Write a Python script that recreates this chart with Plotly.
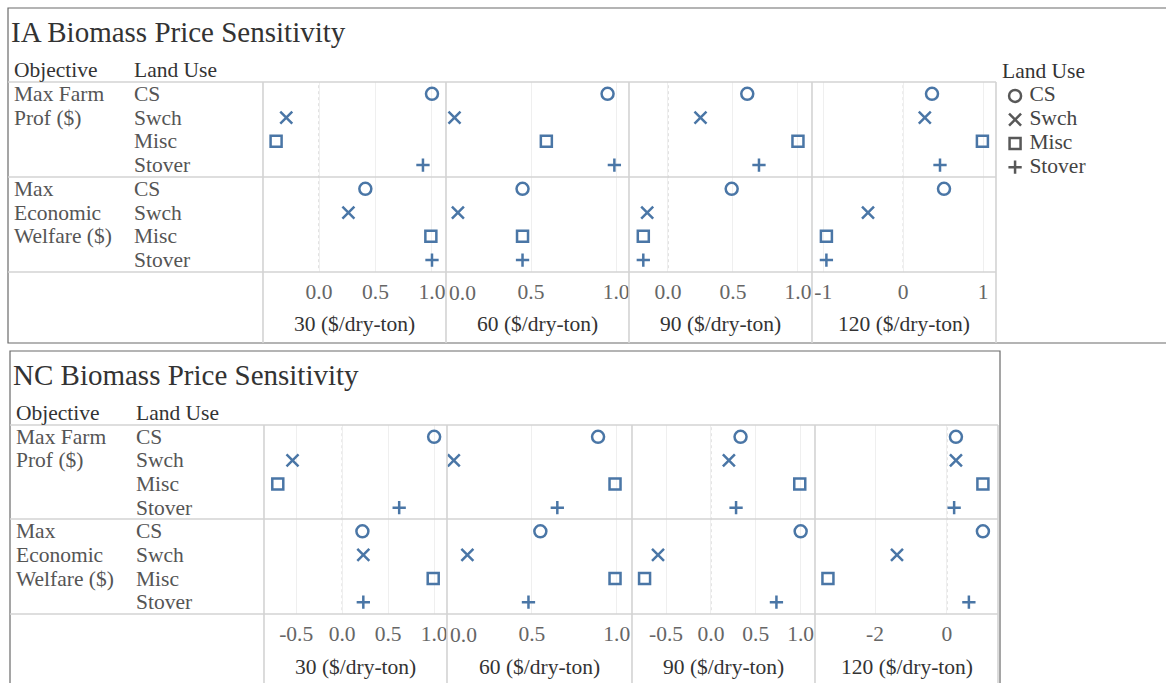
import plotly.graph_objects as go

W, H = 1166, 683

# ---------------- data ----------------
objectives = ["Max Farm Prof ($)", "Max Economic Welfare ($)"]
objective_lines = [["Max Farm", "Prof ($)"], ["Max", "Economic", "Welfare ($)"]]
land_uses = ["CS", "Swch", "Misc", "Stover"]
prices = ["30 ($/dry-ton)", "60 ($/dry-ton)", "90 ($/dry-ton)", "120 ($/dry-ton)"]

# order: Max Farm Prof (CS, Swch, Misc, Stover), Max Economic Welfare (CS, Swch, Misc, Stover)
ia_30 = [1.00, -0.29, -0.38, 0.92, 0.41, 0.26, 0.99, 1.00]
ia_60 = [0.95, 0.05, 0.59, 0.99, 0.45, 0.07, 0.45, 0.45]
ia_90 = [0.61, 0.25, 1.00, 0.70, 0.49, -0.16, -0.19, -0.19]
ia_120 = [0.36, 0.27, 0.99, 0.46, 0.51, -0.44, -0.96, -0.96]

nc_30 = [1.00, -0.54, -0.70, 0.62, 0.22, 0.23, 0.99, 0.23]
nc_60 = [0.89, 0.04, 0.99, 0.65, 0.55, 0.12, 0.99, 0.48]
nc_90 = [0.33, 0.20, 0.99, 0.28, 1.00, -0.59, -0.74, 0.73]
nc_120 = [0.25, 0.25, 1.00, 0.20, 1.00, -1.39, -3.31, 0.61]

ia_tickvals = [[0, 0.5, 1], [0, 0.5, 1], [0, 0.5, 1], [-1, 0, 1]]
ia_ticktext = [["0.0", "0.5", "1.0"], ["0.0", "0.5", "1.0"], ["0.0", "0.5", "1.0"], ["-1", "0", "1"]]
nc_tickvals = [[-0.5, 0, 0.5, 1], [0, 0.5, 1], [-0.5, 0, 0.5, 1], [-2, 0]]
nc_ticktext = [["-0.5", "0.0", "0.5", "1.0"], ["0.0", "0.5", "1.0"], ["-0.5", "0.0", "0.5", "1.0"], ["-2", "0"]]

# ---------------- styling / layout constants ----------------
FONT = "Liberation Serif"
FS = 21.5
BLUE = "#4a76a6"
DIV = "#d3d3d3"
GRID = "#efefef"
symbols = {"CS": "circle-open", "Swch": "x-thin-open", "Misc": "square-open", "Stover": "cross-thin-open"}
sizes = {"CS": 12, "Swch": 12, "Misc": 11, "Stover": 9.5}
MLW = 2.5

rows = [f"{o} | {lu}" for o in objectives for lu in land_uses]

panels = [
    dict(title="IA Biomass Price Sensitivity", values=[ia_30, ia_60, ia_90, ia_120],
         ranges=[[-0.496, 1.124], [0, 1.076], [-0.30, 1.108], [-1.14, 1.16]],
         tickvals=ia_tickvals, ticktext=ia_ticktext,
         box=(8, 8, 1175, 343), title_xy=(9, 32), header_y=70, obj_x=12, lu_x=132,
         top=82, mid=177, bottom=272, edges=[263, 446, 629, 812, 996], tick_y=293, label_y=324),
    dict(title="NC Biomass Price Sensitivity", values=[nc_30, nc_60, nc_90, nc_120],
         ranges=[[-0.85, 1.14], [0, 1.09], [-0.88, 1.16], [-3.67, 1.42]],
         tickvals=nc_tickvals, ticktext=nc_ticktext,
         box=(10, 351, 1000, 720), title_xy=(11, 375), header_y=413, obj_x=14, lu_x=134,
         top=425, mid=519, bottom=614, edges=[264, 447, 632, 815, 998], tick_y=635, label_y=667),
]


def px(p):
    return p / W


def py(p):
    return 1 - p / H


fig = go.Figure()
layout = dict(
    width=W, height=H, margin=dict(l=0, r=0, t=0, b=0),
    paper_bgcolor="white", plot_bgcolor="white", showlegend=False,
    font=dict(family=FONT, size=FS, color="#555"),
)
shapes = []
annotations = []

k = 0
for p, pn in enumerate(panels):
    first_k = k + 1
    x0b, y0b, x1b, y1b = pn["box"]
    shapes.append(dict(type="rect", xref="paper", yref="paper", x0=px(x0b), x1=px(x1b),
                       y0=py(y0b), y1=py(y1b), line=dict(color="#6a6a6a", width=1.2)))
    right = pn["edges"][-1]
    for yy in (pn["top"], pn["mid"], pn["bottom"]):
        shapes.append(dict(type="line", xref="paper", yref="paper", x0=px(x0b), x1=px(right),
                           y0=py(yy), y1=py(yy), line=dict(color=DIV, width=1.6)))
    for xx in pn["edges"]:
        shapes.append(dict(type="line", xref="paper", yref="paper", x0=px(xx), x1=px(xx),
                           y0=py(pn["top"]), y1=py(y1b), line=dict(color=DIV, width=1.6)))
    annotations.append(dict(text=pn["title"], xref="paper", yref="paper", x=px(pn["title_xy"][0]),
                            y=py(pn["title_xy"][1]), xanchor="left", yanchor="middle", showarrow=False,
                            font=dict(size=29, color="#333", family=FONT)))
    for txt, xx in (("Objective", pn["obj_x"]), ("Land Use", pn["lu_x"])):
        annotations.append(dict(text=txt, xref="paper", yref="paper", x=px(xx), y=py(pn["header_y"]),
                                xanchor="left", yanchor="middle", showarrow=False,
                                font=dict(size=FS, color="#333", family=FONT)))
    ydom = [py(pn["bottom"]), py(pn["top"])]
    for c in range(4):
        k += 1
        sfx = "" if k == 1 else str(k)
        xa, ya = "x" + sfx, "y" + sfx
        rng = pn["ranges"][c]
        layout["xaxis" + sfx] = dict(
            domain=[px(pn["edges"][c]), px(pn["edges"][c + 1])], range=rng, anchor=ya,
            tickvals=[t for t in pn["tickvals"][c] if abs(t - rng[0]) > 1e-9],
            ticktext=[tt for t, tt in zip(pn["tickvals"][c], pn["ticktext"][c]) if abs(t - rng[0]) > 1e-9],
            showgrid=True, gridcolor=GRID, gridwidth=1, zeroline=False, showline=False, ticks="",
            ticklabelstandoff=4, tickfont=dict(size=FS, color="#666", family=FONT), fixedrange=True,
        )
        layout["yaxis" + sfx] = dict(
            domain=ydom, type="category", categoryorder="array", categoryarray=rows,
            range=[7.5, -0.5], anchor=xa, showticklabels=False, showgrid=False, zeroline=False,
            showline=False, ticks="", fixedrange=True,
        )
        for t, tt in zip(pn["tickvals"][c], pn["ticktext"][c]):
            if abs(t - rng[0]) <= 1e-9:
                annotations.append(dict(text=tt, xref=xa, yref="paper", x=t, y=py(pn["tick_y"]),
                                        xanchor="left", yanchor="middle", xshift=1, showarrow=False,
                                        font=dict(size=FS, color="#666", family=FONT)))
        if rng[0] < 0 < rng[1]:
            shapes.append(dict(type="line", xref=xa, yref=ya + " domain", x0=0, x1=0, y0=0.02, y1=1,
                               line=dict(color="#c4c4c4", width=1, dash="dot"), layer="below"))
        vals = pn["values"][c]
        lus = [r.split(" | ")[1] for r in rows]
        fig.add_trace(go.Scatter(
            x=vals, y=rows, mode="markers", xaxis=xa, yaxis=ya, hoverinfo="x+y",
            marker=dict(symbol=[symbols[l] for l in lus], size=[sizes[l] for l in lus],
                        color=BLUE, opacity=1, line=dict(width=MLW, color=BLUE)),
        ))
        annotations.append(dict(text=prices[c], xref=xa + " domain", yref="paper", x=0.5,
                                y=py(pn["label_y"]), xanchor="center", yanchor="middle", showarrow=False,
                                font=dict(size=FS, color="#333", family=FONT)))
    yref_rows = "y" if first_k == 1 else f"y{first_k}"
    for i, obj in enumerate(objectives):
        for j, lu in enumerate(land_uses):
            annotations.append(dict(text=lu, xref="paper", yref=yref_rows, x=px(pn["lu_x"]),
                                    y=rows[i * 4 + j], xanchor="left", yanchor="middle", showarrow=False,
                                    font=dict(size=FS, color="#555", family=FONT)))
        for l, line in enumerate(objective_lines[i]):
            annotations.append(dict(text=line, xref="paper", yref=yref_rows, x=px(pn["obj_x"]),
                                    y=rows[i * 4 + l], xanchor="left", yanchor="middle", showarrow=False,
                                    font=dict(size=FS, color="#555", family=FONT)))

# ---------------- legend (Land Use) ----------------
ia = panels[0]
layout["xaxis9"] = dict(domain=[px(1003), 1], range=[-0.8, 10], anchor="y9", visible=False, fixedrange=True)
layout["yaxis9"] = dict(domain=[py(ia["bottom"] + 2), py(ia["top"] + 2)], type="category", categoryorder="array",
                        categoryarray=rows, range=[7.5, -0.5], anchor="x9", visible=False, fixedrange=True)
leg_rows = rows[:4]
fig.add_trace(go.Scatter(
    x=[0] * len(land_uses), y=leg_rows, mode="markers", xaxis="x9", yaxis="y9", hoverinfo="skip",
    marker=dict(symbol=[symbols[l] for l in land_uses], size=[sizes[l] for l in land_uses],
                color="#111", line=dict(width=MLW, color="#111")),
))
fig.add_trace(go.Scatter(
    x=[0.95] * len(land_uses), y=leg_rows, mode="text", text=land_uses, textposition="middle right",
    xaxis="x9", yaxis="y9", hoverinfo="skip", textfont=dict(size=FS, color="#444", family=FONT),
))
annotations.append(dict(text="Land Use", xref="paper", yref="paper", x=px(1000), y=py(71), xanchor="left",
                        yanchor="middle", showarrow=False, font=dict(size=FS, color="#333", family=FONT)))

layout["shapes"] = shapes
layout["annotations"] = annotations
fig.update_layout(**layout)
fig.write_html("out.html")
